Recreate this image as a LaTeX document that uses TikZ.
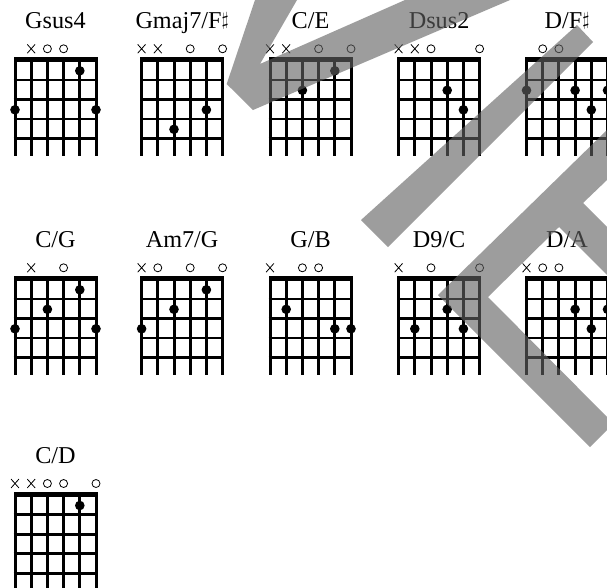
\documentclass[tikz,border=0pt]{standalone}
\usepackage{fontspec}
\setmainfont{Liberation Serif}
\usepackage{graphicx}
\usetikzlibrary{shapes.misc}
\newcommand{\shp}{\raisebox{0.15em}{\scalebox{0.75}{$\sharp$}}}
\tikzset{
  gstring/.style={line width=3pt},
  gfret/.style={line width=2.8pt},
  fingerdot/.style={circle, fill=black, inner sep=0pt, minimum size=9.6pt},
  mkx/.style={cross out, draw=black, line width=0.8pt, inner sep=0pt, minimum width=7pt, minimum height=8pt},
  mko/.style={circle, draw=black, line width=0.8pt, inner sep=0pt, minimum size=8pt},
  ctitle/.style={anchor=base, inner sep=0pt, font=\fontsize{24.2}{26}\selectfont},
  wm/.style={fill=black!62, fill opacity=0.62}
}
% #1 name, #2 x0, #3 y0 (nut top), #4 title, #5 marks s/m, #6 dots s/f
\newcommand{\chordbox}[6]{%
  \begin{scope}[shift={(#2,#3)}]
    \node[ctitle] (#1-t) at (40.5,-28.5) {#4};
    \foreach \i in {0,...,5} \draw[gstring] (\i*16.2,0) -- (\i*16.2,99);
    \fill (-1.5,0) rectangle (82.5,4.8);
    \foreach \f in {22.7,42.2,61.7,81.2} \draw[gfret] (-1.5,\f) -- (82.5,\f);
    \foreach \s/\m in {#5} \node[mk\m] (#1-m\s) at ({(\s-1)*16.2},-8.5) {};
    \foreach \s/\f in {#6} \node[fingerdot] (#1-d\s) at ({(\s-1)*16.2},{13.5+19.5*(\f-1)}) {};
  \end{scope}}
\begin{document}
\begin{tikzpicture}[x=1pt,y=-1pt]
\useasboundingbox (0,0) rectangle (607,587);
\clip (0,0) rectangle (607,587);
\fill[white] (0,0) rectangle (607,587);
% row 1
\chordbox{gsus}{15}{57.3}{Gsus4}{2/x,3/o,4/o}{5/1,1/3,6/3}
\chordbox{gmaj}{141.6}{57.3}{Gmaj7/F\shp}{1/x,2/x,4/o,6/o}{5/3,3/4}
\chordbox{ce}{270}{57.3}{C/E}{1/x,2/x,4/o,6/o}{5/1,3/2}
\chordbox{dsus}{398.6}{57.3}{Dsus2}{1/x,2/x,3/o,6/o}{4/2,5/3}
\chordbox{dfs}{526.5}{57.3}{D/F\shp}{2/o,3/o}{1/2,4/2,6/2,5/3}
% row 2
\chordbox{cg}{15}{276.3}{C/G}{2/x,4/o}{5/1,3/2,1/3,6/3}
\chordbox{amg}{141.6}{276.3}{Am7/G}{1/x,2/o,4/o,6/o}{5/1,3/2,1/3}
\chordbox{gb}{270}{276.3}{G/B}{1/x,3/o,4/o}{2/2,5/3,6/3}
\chordbox{dnc}{398.6}{276.3}{D9/C}{1/x,3/o,6/o}{4/2,2/3,5/3}
\chordbox{da}{526.5}{276.3}{D/A}{1/x,2/o,3/o}{4/2,6/2,5/3}
% row 3
\chordbox{cd}{15}{492}{C/D}{1/x,2/x,3/o,4/o,6/o}{5/1}
% watermark
\fill[wm] (255,0) -- (226.7,84) -- (253,110) -- (510,0) -- (405,0) -- (260,64) -- (297,0) -- cycle;
\fill[wm] (361,220) -- (388,247) -- (593,42) -- (577,25) -- cycle;
\fill[wm] (607,130) -- (438,295) -- (590,447) -- (607,430) -- (607,417) -- (488,297) -- (559,227)
  -- (607,275) -- (607,227) -- (583,203) -- (607,180) -- cycle;
\end{tikzpicture}
\end{document}
